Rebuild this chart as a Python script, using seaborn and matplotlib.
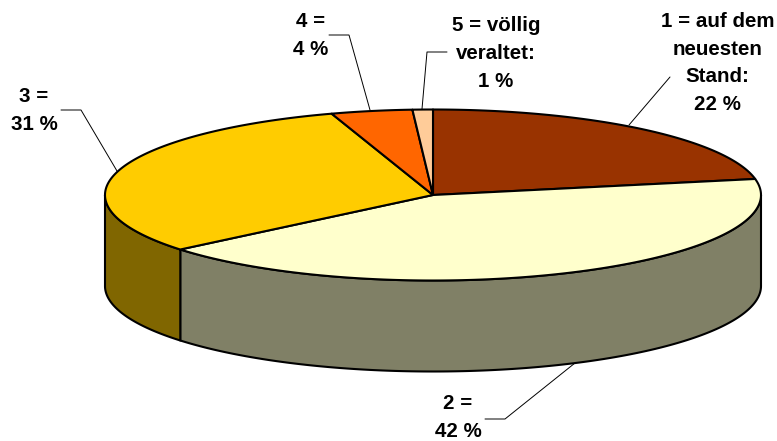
import numpy as np
import matplotlib
matplotlib.use('Agg')
import matplotlib.pyplot as plt
import seaborn as sns

labels = ['1 = auf dem\nneuesten\nStand:\n22 %', '2 =\n42 %', '3 =\n31 %', '4 =\n4 %', '5 = völlig\nveraltet:\n1 %']
values = [22, 42, 31, 4, 1]
top_colors = ['#993300', '#FFFFCC', '#FFCC00', '#FF6600', '#FFCC99']
side_colors = ['#4D1A00', '#808066', '#806600', '#803300', '#80664D']

# where the labels and their leader lines sit, in pixels
label_pos = [(717.5, 63), (458, 417.5), (34, 110.5), (311, 35.5), (496, 53.5)]
leaders = [
    [(629, 125), (670, 77)],
    [(575, 363), (505, 419), (485, 419)],
    [(117, 171), (81, 110), (61, 110)],
    [(370, 110), (349, 35), (329, 35)],
    [(422, 109), (427, 52), (447, 52)],
]

# pie geometry
cx, cy = 433, 195
rx, ry = 328, 85.5
depth = 91

sns.set_theme(style='white')
plt.rcParams['font.family'] = ['Liberation Sans', 'DejaVu Sans']

fig, ax = plt.subplots(figsize=(7.77, 4.41), dpi=100)
ax.set_position([0, 0, 1, 1])
ax.set_xlim(0, 777)
ax.set_ylim(441, 0)
ax.axis('off')


def rim(a, b, drop=0):
    # points along the ellipse, angles clockwise from 12 o'clock
    t = np.radians(np.linspace(a, b, 200))
    return cx + rx * np.sin(t), cy - ry * np.cos(t) + drop


edges = np.concatenate([[0], np.cumsum(values)]) / sum(values) * 360

# front wall first, only the part between 90 and 270 degrees shows
for i in range(len(values)):
    a, b = max(edges[i], 90), min(edges[i + 1], 270)
    if a >= b:
        continue
    x1, y1 = rim(a, b)
    x2, y2 = rim(b, a, depth)
    ax.fill(np.r_[x1, x2], np.r_[y1, y2], facecolor=side_colors[i],
            edgecolor='black', linewidth=1.5, joinstyle='round')

# top of the pie
for i in range(len(values)):
    x, y = rim(edges[i], edges[i + 1])
    ax.fill(np.r_[cx, x], np.r_[cy, y], facecolor=top_colors[i],
            edgecolor='black', linewidth=1.5, joinstyle='round')

for pts in leaders:
    xs, ys = zip(*pts)
    ax.plot(xs, ys, color='black', linewidth=0.7)

for lab, (x, y) in zip(labels, label_pos):
    ax.text(x, y, lab, ha='center', va='center', fontsize=14.8,
            fontweight='bold', color='black', linespacing=1.57)

fig.savefig('out.png', dpi=100, facecolor='white')
